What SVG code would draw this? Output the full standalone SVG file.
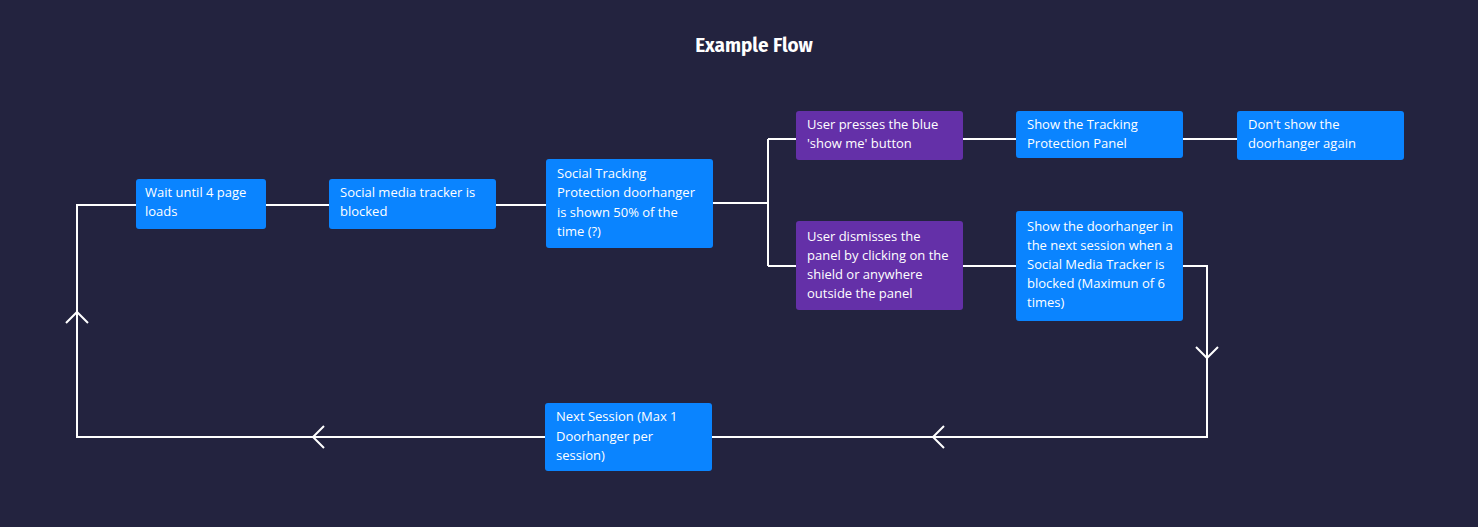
<svg xmlns="http://www.w3.org/2000/svg" width="1478" height="527" viewBox="0 0 1478 527">
<style>
.b{fill:#0a84ff}.p{fill:#6430a8}
text{font-family:"Open Sans","Noto Sans",sans-serif;font-size:13px;fill:#fff}
.t{font-family:"Fira Sans","Open Sans",sans-serif;font-size:19px;font-weight:bold}
.c{fill:none;stroke:#fff;stroke-width:2}
</style>
<rect width="1478" height="527" fill="#23233f"/>
<text class="t" x="754" y="52" text-anchor="middle">Example Flow</text>
<g id="connectors" class="c">
<path d="M266 205H329M496 205H546M713 203H768M768 139V266M768 139H796M768 266H796M963 139H1016M1183 139H1237M963 266H1016"/>
<path d="M1183 266H1207V437H712M545 437H77V205H136"/>
<path d="M1196 347L1207 358L1218 347M944 426L933 437L944 448M324 426L313 437L324 448M66 323L77 312L88 323"/>
</g>
<g id="n1"><rect class="b" x="136" y="179" width="130" height="50" rx="3"/><text x="145" y="197">Wait until 4 page</text><text x="145" y="216">loads</text></g>
<g id="n2"><rect class="b" x="329" y="179" width="167" height="50" rx="3"/><text x="340" y="197">Social media tracker is</text><text x="340" y="216">blocked</text></g>
<g id="n3"><rect class="b" x="546" y="159" width="167" height="89" rx="3"/><text x="557" y="178">Social Tracking</text><text x="557" y="197">Protection doorhanger</text><text x="557" y="217">is shown 50% of the</text><text x="557" y="236">time (?)</text></g>
<g id="n4"><rect class="p" x="796" y="111" width="167" height="49" rx="3"/><text x="807" y="129">User presses the blue</text><text x="807" y="148">'show me' button</text></g>
<g id="n5"><rect class="b" x="1016" y="111" width="167" height="47" rx="3"/><text x="1027" y="129">Show the Tracking</text><text x="1027" y="148">Protection Panel</text></g>
<g id="n6"><rect class="b" x="1237" y="111" width="167" height="49" rx="3"/><text x="1248" y="129">Don't show the</text><text x="1248" y="148">doorhanger again</text></g>
<g id="n7"><rect class="p" x="796" y="221" width="167" height="89" rx="3"/><text x="807" y="241">User dismisses the</text><text x="807" y="260">panel by clicking on the</text><text x="807" y="279">shield or anywhere</text><text x="807" y="298">outside the panel</text></g>
<g id="n8"><rect class="b" x="1016" y="211" width="167" height="110" rx="3"/><text x="1027" y="231">Show the doorhanger in</text><text x="1027" y="250">the next session when a</text><text x="1027" y="269">Social Media Tracker is</text><text x="1027" y="288">blocked (Maximun of 6</text><text x="1027" y="307">times)</text></g>
<g id="n9"><rect class="b" x="545" y="403" width="167" height="68" rx="3"/><text x="556" y="421">Next Session (Max 1</text><text x="556" y="441">Doorhanger per</text><text x="556" y="460">session)</text></g>
</svg>
